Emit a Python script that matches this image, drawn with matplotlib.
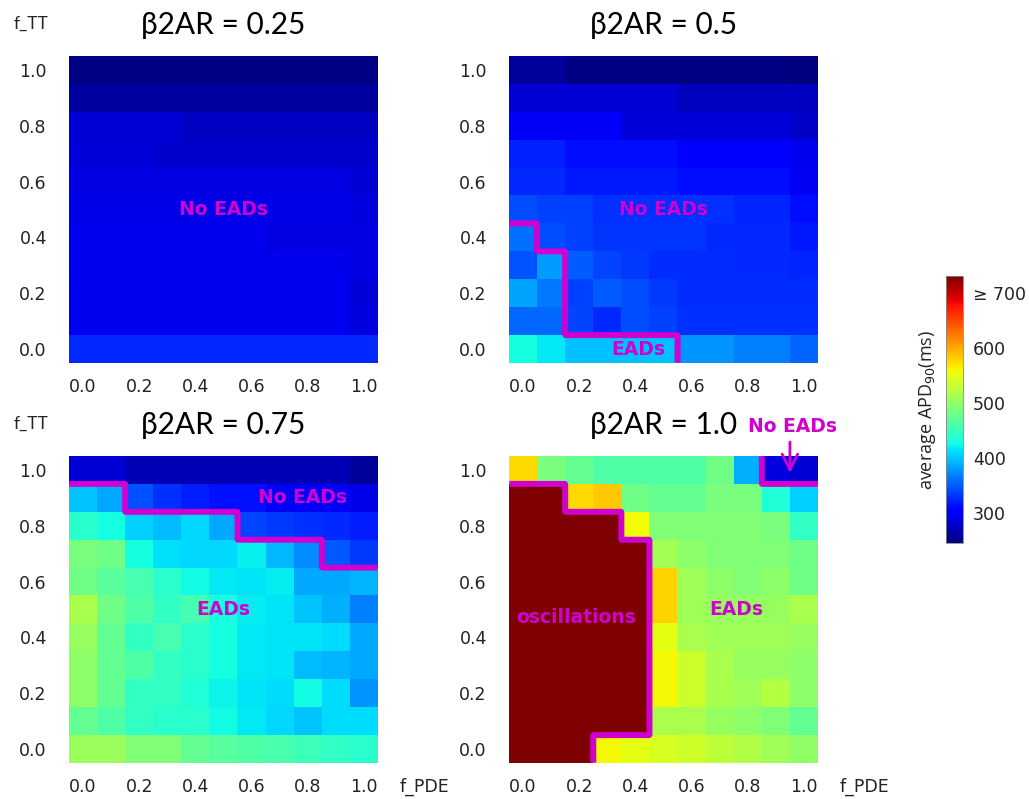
import numpy as np
import matplotlib
matplotlib.use("Agg")
import matplotlib.pyplot as plt
from matplotlib.colors import Normalize

plt.rcParams["font.family"] = ["DejaVu Sans"]

# ---------------- data ----------------
f_pde = [0.0, 0.1, 0.2, 0.3, 0.4, 0.5, 0.6, 0.7, 0.8, 0.9, 1.0]
f_tt_top_to_bottom = [1.0, 0.9, 0.8, 0.7, 0.6, 0.5, 0.4, 0.3, 0.2, 0.1, 0.0]
tick_labels = ["0.0", "0.2", "0.4", "0.6", "0.8", "1.0"]
beta2ar_levels = ["0.25", "0.5", "0.75", "1.0"]
cbar_ticks = [300, 400, 500, 600, 700]
cbar_ticklabels = ["300", "400", "500", "600", "\u2265 700"]
OSC = np.nan  # oscillating cells (shown as >= 700)

# average APD90 (ms); rows: f_TT = 1.0 (top) ... 0.0 (bottom); cols: f_PDE = 0.0 ... 1.0
apd_025 = [
    [247, 247, 247, 247, 247, 247, 247, 247, 247, 247, 247],
    [259, 259, 259, 259, 259, 259, 259, 259, 259, 259, 259],
    [281, 281, 281, 281, 275, 275, 275, 275, 275, 275, 275],
    [284, 284, 284, 278, 278, 278, 278, 278, 278, 278, 278],
    [287, 287, 287, 287, 287, 287, 287, 287, 287, 287, 281],
    [289, 290, 290, 289, 289, 289, 289, 289, 289, 289, 286],
    [291, 291, 291, 291, 291, 291, 291, 287, 287, 287, 287],
    [292, 292, 292, 292, 292, 292, 292, 292, 292, 292, 287],
    [293, 293, 293, 293, 293, 293, 293, 293, 293, 293, 284],
    [293, 293, 293, 293, 293, 293, 293, 293, 293, 293, 286],
    [325, 325, 325, 325, 325, 325, 325, 325, 325, 325, 325],
]
apd_050 = [
    [257, 257, 248, 248, 248, 248, 248, 248, 248, 248, 246],
    [281, 281, 281, 281, 281, 281, 273, 273, 273, 273, 273],
    [298, 298, 298, 298, 283, 283, 283, 283, 283, 283, 277],
    [322, 322, 313, 313, 313, 313, 300, 300, 300, 300, 293],
    [325, 325, 318, 318, 318, 318, 312, 312, 312, 312, 296],
    [342, 337, 337, 330, 330, 330, 330, 330, 323, 323, 313],
    [360, 342, 337, 332, 332, 332, 332, 325, 325, 325, 318],
    [346, 380, 351, 339, 334, 327, 327, 327, 325, 325, 323],
    [384, 363, 337, 351, 342, 334, 327, 327, 327, 327, 327],
    [356, 356, 339, 325, 342, 337, 330, 330, 330, 330, 330],
    [427, 417, 398, 398, 398, 398, 377, 377, 367, 367, 353],
]
apd_075 = [
    [281, 281, 268, 268, 268, 268, 268, 268, 268, 268, 257],
    [400, 386, 344, 329, 320, 315, 315, 296, 296, 296, 289],
    [439, 427, 405, 396, 408, 386, 339, 334, 329, 325, 320],
    [486, 480, 427, 412, 408, 408, 421, 393, 372, 348, 334],
    [480, 468, 456, 439, 425, 417, 415, 419, 386, 386, 391],
    [515, 480, 462, 444, 456, 427, 419, 415, 400, 389, 367],
    [503, 474, 444, 456, 439, 427, 417, 415, 415, 410, 386],
    [497, 474, 462, 444, 439, 427, 417, 415, 396, 391, 386],
    [497, 474, 444, 444, 433, 423, 415, 410, 425, 410, 377],
    [474, 462, 444, 439, 439, 425, 417, 408, 400, 410, 410],
    [506, 506, 491, 491, 474, 468, 462, 459, 450, 444, 439],
]
apd_100 = [
    [573, 486, 474, 462, 462, 462, 462, 480, 389, 286, 281],
    [OSC, OSC, 573, 584, 480, 474, 474, 486, 486, 433, 405],
    [OSC, OSC, OSC, OSC, 556, 491, 491, 491, 491, 486, 444],
    [OSC, OSC, OSC, OSC, OSC, 512, 497, 491, 491, 491, 480],
    [OSC, OSC, OSC, OSC, OSC, 578, 509, 497, 491, 497, 480],
    [OSC, OSC, OSC, OSC, OSC, 578, 509, 503, 503, 503, 515],
    [OSC, OSC, OSC, OSC, OSC, 550, 515, 509, 509, 509, 503],
    [OSC, OSC, OSC, OSC, OSC, 558, 533, 515, 503, 503, 497],
    [OSC, OSC, OSC, OSC, OSC, 558, 533, 515, 509, 521, 497],
    [OSC, OSC, OSC, OSC, OSC, 515, 515, 503, 497, 491, 474],
    [OSC, OSC, OSC, 558, 550, 542, 535, 527, 518, 510, 500],
]

# behaviour class per cell: 0 = no EADs, 1 = EADs, 2 = oscillations
cls_025 = [[0] * 11 for _ in range(11)]
cls_050 = [
    [0, 0, 0, 0, 0, 0, 0, 0, 0, 0, 0],
    [0, 0, 0, 0, 0, 0, 0, 0, 0, 0, 0],
    [0, 0, 0, 0, 0, 0, 0, 0, 0, 0, 0],
    [0, 0, 0, 0, 0, 0, 0, 0, 0, 0, 0],
    [0, 0, 0, 0, 0, 0, 0, 0, 0, 0, 0],
    [0, 0, 0, 0, 0, 0, 0, 0, 0, 0, 0],
    [1, 0, 0, 0, 0, 0, 0, 0, 0, 0, 0],
    [1, 1, 0, 0, 0, 0, 0, 0, 0, 0, 0],
    [1, 1, 0, 0, 0, 0, 0, 0, 0, 0, 0],
    [1, 1, 0, 0, 0, 0, 0, 0, 0, 0, 0],
    [1, 1, 1, 1, 1, 1, 0, 0, 0, 0, 0],
]
cls_075 = [
    [0, 0, 0, 0, 0, 0, 0, 0, 0, 0, 0],
    [1, 1, 0, 0, 0, 0, 0, 0, 0, 0, 0],
    [1, 1, 1, 1, 1, 1, 0, 0, 0, 0, 0],
    [1, 1, 1, 1, 1, 1, 1, 1, 1, 0, 0],
    [1, 1, 1, 1, 1, 1, 1, 1, 1, 1, 1],
    [1, 1, 1, 1, 1, 1, 1, 1, 1, 1, 1],
    [1, 1, 1, 1, 1, 1, 1, 1, 1, 1, 1],
    [1, 1, 1, 1, 1, 1, 1, 1, 1, 1, 1],
    [1, 1, 1, 1, 1, 1, 1, 1, 1, 1, 1],
    [1, 1, 1, 1, 1, 1, 1, 1, 1, 1, 1],
    [1, 1, 1, 1, 1, 1, 1, 1, 1, 1, 1],
]
cls_100 = [
    [1, 1, 1, 1, 1, 1, 1, 1, 1, 0, 0],
    [2, 2, 1, 1, 1, 1, 1, 1, 1, 1, 1],
    [2, 2, 2, 2, 1, 1, 1, 1, 1, 1, 1],
    [2, 2, 2, 2, 2, 1, 1, 1, 1, 1, 1],
    [2, 2, 2, 2, 2, 1, 1, 1, 1, 1, 1],
    [2, 2, 2, 2, 2, 1, 1, 1, 1, 1, 1],
    [2, 2, 2, 2, 2, 1, 1, 1, 1, 1, 1],
    [2, 2, 2, 2, 2, 1, 1, 1, 1, 1, 1],
    [2, 2, 2, 2, 2, 1, 1, 1, 1, 1, 1],
    [2, 2, 2, 2, 2, 1, 1, 1, 1, 1, 1],
    [2, 2, 2, 1, 1, 1, 1, 1, 1, 1, 1],
]

# ---------------- style ----------------
W, H = 1029, 799
MAG = "#D000D0"
TICK_COLOR = "#222222"
VMIN, VMAX = 245, 730
cmap = plt.get_cmap("jet").copy()
cmap.set_bad(cmap(1.0))
norm = Normalize(VMIN, VMAX)
TITLE_FONT = ["Lato", "Open Sans", "DejaVu Sans"]
TICK_FONT = ["DejaVu Sans"]

fig = plt.figure(figsize=(W / 100, H / 100), dpi=100)


def px_rect(x0, y0, x1, y1):
    return [x0 / W, 1 - y1 / H, (x1 - x0) / W, (y1 - y0) / H]


panel_px = [(69, 56), (509, 56), (69, 456), (509, 456)]
PW, PH = 309, 307
half = (f_pde[1] - f_pde[0]) / 2
ext = (f_pde[0] - half, f_pde[-1] + half, f_tt_top_to_bottom[-1] - half, f_tt_top_to_bottom[0] + half)


def draw_boundary(ax, mask):
    k = 40
    m = np.asarray(mask, dtype=float)
    up = np.flipud(np.kron(m, np.ones((k, k))))
    n = up.shape[0]
    xs = ext[0] + (np.arange(n) + 0.5) * (ext[1] - ext[0]) / n
    ys = ext[2] + (np.arange(n) + 0.5) * (ext[3] - ext[2]) / n
    ax.contour(xs, ys, up, levels=[0.5], colors=MAG, linewidths=4.3)


datasets = [apd_025, apd_050, apd_075, apd_100]
classes = [cls_025, cls_050, cls_075, cls_100]
axes = []
for i, (vals, cls) in enumerate(zip(datasets, classes)):
    x0, y0 = panel_px[i]
    ax = fig.add_axes(px_rect(x0, y0, x0 + PW, y0 + PH))
    axes.append(ax)
    arr = np.array(vals, dtype=float)
    ax.imshow(arr, cmap=cmap, norm=norm, extent=ext, origin="upper",
              interpolation="nearest", aspect="auto")
    c = np.array(cls)
    if (c == 0).any() and (c != 0).any():
        draw_boundary(ax, c == 0)
    if (c == 2).any():
        draw_boundary(ax, c == 2)
    ax.set_xlim(ext[0], ext[1])
    ax.set_ylim(ext[2], ext[3])
    ticks = [float(t) for t in tick_labels]
    ax.set_xticks(ticks)
    ax.set_xticklabels(tick_labels, family=TICK_FONT)
    ax.set_yticks(ticks)
    ax.set_yticklabels(tick_labels, family=TICK_FONT)
    ax.tick_params(axis="both", length=0, labelsize=12.5, colors=TICK_COLOR)
    ax.tick_params(axis="x", pad=11)
    ax.tick_params(axis="y", pad=16)
    for s in ax.spines.values():
        s.set_visible(False)
    # title
    fig.text((x0 + PW / 2) / W, 1 - (y0 - 31) / H, "\u03b22AR = " + beta2ar_levels[i],
             ha="center", va="center", fontsize=21.5, family=TITLE_FONT, color="black")
    if i in (0, 2):
        fig.text(31 / W, 1 - (y0 - 32) / H, "f_TT", ha="center", va="center",
                 fontsize=12.5, family=TITLE_FONT, color=TICK_COLOR)
    if i in (2, 3):
        fig.text((x0 + PW + 22) / W, 1 - 787 / H, "f_PDE", ha="left", va="center",
                 fontsize=12.5, family=TICK_FONT, color=TICK_COLOR)

txt = dict(color=MAG, fontsize=13.5, fontweight="bold", ha="center", va="center",
           family=TICK_FONT)
axes[0].text(0.5, 0.5, "No EADs", **txt)
axes[1].text(0.5, 0.5, "No EADs", **txt)
axes[1].text(0.41, 0.0, "EADs", **txt)
axes[2].text(0.78, 0.9, "No EADs", **txt)
axes[2].text(0.5, 0.5, "EADs", **txt)
axes[3].text(0.19, 0.47, "oscillations", **txt)
axes[3].text(0.76, 0.5, "EADs", **txt)
axes[3].text(0.96, 1.157, "No EADs", clip_on=False, **txt)
axes[3].annotate("", xy=(0.95, 0.99), xytext=(0.95, 1.10),
                 arrowprops=dict(arrowstyle="->", color=MAG, lw=2, mutation_scale=28,
                                 shrinkA=0, shrinkB=0),
                 annotation_clip=False)

# colorbar
cax = fig.add_axes(px_rect(946, 276, 963, 543))
sm = matplotlib.cm.ScalarMappable(norm=norm, cmap=cmap)
cb = fig.colorbar(sm, cax=cax)
cb.set_ticks(cbar_ticks)
cb.set_ticklabels(cbar_ticklabels)
for lab in cb.ax.get_yticklabels():
    lab.set_family(TICK_FONT)
cb.ax.tick_params(length=0, labelsize=12.5, colors=TICK_COLOR, pad=7)
cb.outline.set_linewidth(0.6)
cb.outline.set_edgecolor("#888888")
cb.ax.yaxis.set_label_position("left")
cb.set_label("average APD$_{90}$(ms)", fontsize=13, family=["Open Sans", "DejaVu Sans"],
             color=TICK_COLOR, labelpad=6)

fig.savefig("out.png", dpi=100)
